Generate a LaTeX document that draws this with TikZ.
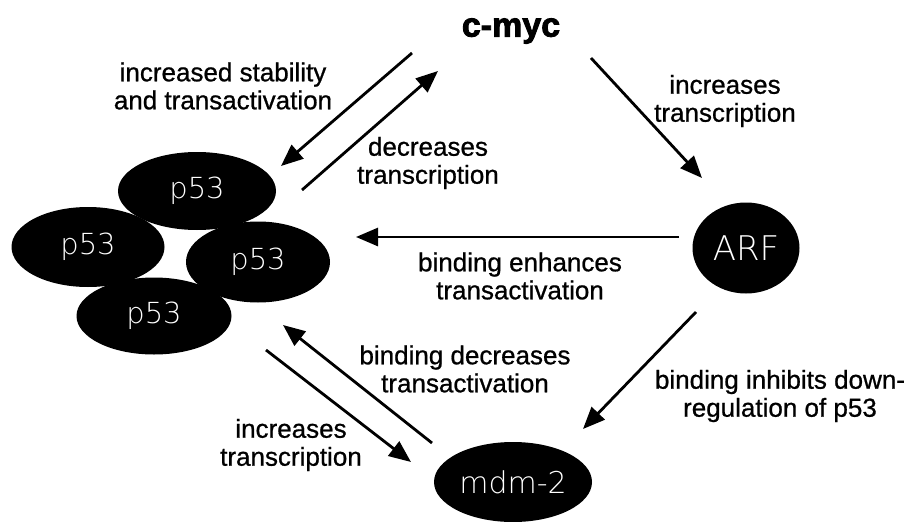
\documentclass[tikz,border=0pt]{standalone}
\usepackage{fontspec}
\setmainfont{Liberation Sans}
\newfontfamily\notefont{Liberation Sans}[FakeBold=0.8]
\newfontfamily\heavyfont{Liberation Sans Bold}[FakeBold=2.5]
\newfontfamily\thinfont{DejaVu Sans ExtraLight}
\usetikzlibrary{shapes.geometric,arrows.meta}

\begin{document}
\begin{tikzpicture}[x=1pt,y=-1pt,
  blob/.style={ellipse,fill=black,text=white,inner sep=0pt,
    font=\thinfont\fontsize{29}{29}\selectfont},
  note/.style={align=center,font=\notefont\fontsize{26}{28}\selectfont},
  arr/.style={-{Triangle[length=22pt,width=18pt]},line width=2.8pt}]
  \useasboundingbox (0,0) rectangle (908,522);
  \node[blob,minimum width=158pt,minimum height=78pt] (p53_t) at (197,191) {p53};
  \node[blob,minimum width=153pt,minimum height=80pt] (p53_l) at (88,247) {p53};
  \node[blob,minimum width=144pt,minimum height=81pt] (p53_r) at (258,262) {p53};
  \node[blob,minimum width=155pt,minimum height=77pt] (p53_b) at (154,316) {p53};
  \node[font=\heavyfont\fontsize{34}{34}\selectfont] (cmyc) at (511,31) {c-myc};
  \node[blob,minimum width=107pt,minimum height=91pt,
    font=\thinfont\fontsize{34}{34}\selectfont] (arf) at (746,248) {ARF};
  \node[blob,minimum width=158pt,minimum height=80pt,
    font=\thinfont\fontsize{30}{30}\selectfont] (mdm) at (513,482) {mdm-2};

  \coordinate (cp_1) at (412,53);  \coordinate (cp_2) at (281,166);
  \coordinate (pc_1) at (302,190); \coordinate (pc_2) at (438,71);
  \coordinate (ca_1) at (591,58);  \coordinate (ca_2) at (702,178);
  \coordinate (ap_1) at (679,237); \coordinate (ap_2) at (356,237);
  \coordinate (am_1) at (696,312); \coordinate (am_2) at (583,429);
  \coordinate (mp_1) at (432,443); \coordinate (mp_2) at (283,325);
  \coordinate (pm_1) at (266,350); \coordinate (pm_2) at (411,462);
  \path[arr]
  (cp_1) edge (cp_2)
  (pc_1) edge (pc_2)
  (ca_1) edge (ca_2)
  (ap_1) edge (ap_2)
  (am_1) edge (am_2)
  (mp_1) edge (mp_2)
  (pm_1) edge (pm_2)
  ;

  \node[note] (l_cp) at (223,86) {increased stability\\and transactivation};
  \node[note] (l_pc) at (428,163) {decreases\\transcription};
  \node[note] (l_ca) at (725,101) {increases\\transcription};
  \node[note] (l_ap) at (520,276) {binding enhances\\transactivation};
  \node[note] (l_mp) at (465,369) {binding decreases\\transactivation};
  \node[note] (l_am) at (780,396) {binding inhibits down-\\regulation of p53};
  \node[note] (l_pm) at (291,445) {increases\\transcription};
\end{tikzpicture}
\end{document}
